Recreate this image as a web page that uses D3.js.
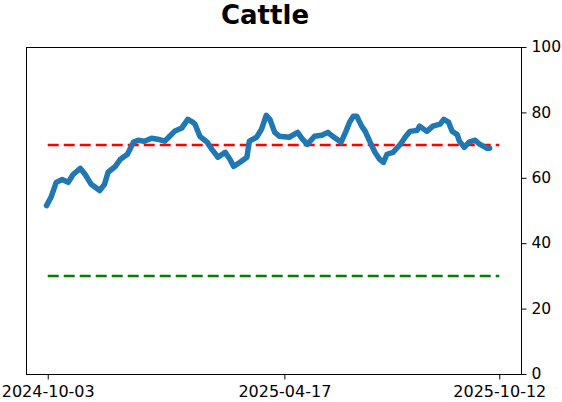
<!DOCTYPE html>
<html>
<head>
<meta charset="utf-8">
<script src="https://cdn.jsdelivr.net/npm/d3@7"></script>
<style>
body { margin: 0; background: #fff; }
text { font-family: "DejaVu Sans", sans-serif; }
</style>
</head>
<body>
<svg width="562" height="402"></svg>
<script>
var title = "Cattle";

var dates = ["2024-10-02","2024-10-06","2024-10-10","2024-10-15","2024-10-20","2024-10-24",
  "2024-10-30","2024-11-03","2024-11-08","2024-11-15","2024-11-19","2024-11-22",
  "2024-11-28","2024-12-02","2024-12-08","2024-12-13","2024-12-17","2024-12-22","2024-12-28",
  "2025-01-02","2025-01-08","2025-01-12","2025-01-16","2025-01-22","2025-01-27","2025-01-31",
  "2025-02-02","2025-02-06","2025-02-12","2025-02-16","2025-02-21","2025-02-27",
  "2025-03-03","2025-03-06","2025-03-11","2025-03-17","2025-03-19","2025-03-25","2025-03-29",
  "2025-04-02","2025-04-05","2025-04-09","2025-04-13","2025-04-21","2025-04-28",
  "2025-05-02","2025-05-06","2025-05-12","2025-05-18","2025-05-23","2025-05-27",
  "2025-06-03","2025-06-07","2025-06-10","2025-06-13","2025-06-16","2025-06-20","2025-06-23","2025-06-27",
  "2025-07-01","2025-07-05","2025-07-08","2025-07-11","2025-07-16","2025-07-22","2025-07-26","2025-07-30",
  "2025-08-05","2025-08-07","2025-08-13","2025-08-18","2025-08-24","2025-08-27","2025-08-31",
  "2025-09-03","2025-09-07","2025-09-09","2025-09-13","2025-09-17","2025-09-22","2025-09-26",
  "2025-10-02","2025-10-04"];

var values = [51.5,54.3,58.6,59.5,58.6,61.0,
  62.9,61.0,58.0,56.1,58.0,61.7,
  63.5,65.6,67.2,70.9,71.5,71.2,72.1,
  71.8,71.2,72.7,74.2,75.2,77.9,77.0,
  76.4,72.7,70.9,68.7,66.3,67.8,
  65.6,63.5,64.7,66.3,71.2,72.4,74.8,
  79.1,77.9,73.9,72.7,72.4,73.9,
  71.8,70.2,72.7,73.0,73.9,72.7,
  70.9,74.2,77.0,78.8,78.8,75.8,74.2,70.9,
  67.8,65.6,64.7,67.2,67.8,70.2,72.4,74.2,
  74.5,75.8,74.2,75.8,76.4,77.9,77.0,
  74.2,73.3,71.2,69.3,70.9,71.5,70.2,
  69.0,69.0];

var xTicks = ["2024-10-03", "2025-04-17", "2025-10-12"];
var yTicks = [0, 20, 40, 60, 80, 100];
var xDomain = ["2024-09-15", "2025-10-30"];

// threshold lines
var thresholds = [70, 30];
var thresholdColors = ["#ff0000", "#008000"];
var thresholdRange = ["2024-10-03", "2025-10-12"];

var parse = d3.timeParse("%Y-%m-%d");
var svg = d3.select("svg");

var marginLeft = 26, marginRight = 41, marginTop = 47, marginBottom = 28;
var width = 562, height = 402;

var x = d3.scaleTime()
    .domain(xDomain.map(parse))
    .range([marginLeft, width - marginRight]);

var y = d3.scaleLinear()
    .domain([0, 100])
    .range([height - marginBottom, marginTop]);

var points = dates.map(function(d, i) { return { date: parse(d), value: values[i] }; });

// threshold lines
svg.selectAll(".thr")
    .data(thresholds)
    .enter()
    .append("line")
    .attr("x1", x(parse(thresholdRange[0])))
    .attr("x2", x(parse(thresholdRange[1])))
    .attr("y1", function(d) { return y(d); })
    .attr("y2", function(d) { return y(d); })
    .attr("stroke", function(d, i) { return thresholdColors[i]; })
    .attr("stroke-width", 2.5)
    .attr("stroke-dasharray", "11,5");

// main line
var line = d3.line()
    .x(function(d) { return x(d.date); })
    .y(function(d) { return y(d.value); });

svg.append("path")
    .datum(points)
    .attr("fill", "none")
    .attr("stroke", "#1f77b4")
    .attr("stroke-width", 5.5)
    .attr("stroke-linejoin", "round")
    .attr("stroke-linecap", "round")
    .attr("d", line);

// frame
svg.append("rect")
    .attr("x", marginLeft + 0.5)
    .attr("y", marginTop + 0.5)
    .attr("width", width - marginLeft - marginRight)
    .attr("height", height - marginTop - marginBottom)
    .attr("fill", "none")
    .attr("stroke", "#000")
    .attr("stroke-width", 1);

// x axis
var xaxis = d3.axisBottom(x)
    .tickValues(xTicks.map(parse))
    .tickFormat(d3.timeFormat("%Y-%m-%d"))
    .tickSize(5)
    .tickPadding(4)
    .tickSizeOuter(0);
var gx = svg.append("g")
    .attr("transform", "translate(0," + (height - marginBottom + 0.5) + ")")
    .call(xaxis);
gx.select(".domain").remove();
gx.selectAll("text").style("font-size", "16px").attr("fill", "#000").attr("dy", "0.82em");

// y axis on right
var yaxis = d3.axisRight(y)
    .tickValues(yTicks)
    .tickSize(5)
    .tickPadding(5)
    .tickSizeOuter(0);
var gy = svg.append("g")
    .attr("transform", "translate(" + (width - marginRight + 0.5) + ",0)")
    .call(yaxis);
gy.select(".domain").remove();
gy.selectAll("text").style("font-size", "15.5px").attr("fill", "#000").attr("dy", "0.3em");

// title
svg.append("text")
    .attr("x", 265)
    .attr("y", 24)
    .attr("text-anchor", "middle")
    .style("font-size", "26px")
    .style("font-weight", "bold")
    .text(title);
</script>
</body>
</html>
